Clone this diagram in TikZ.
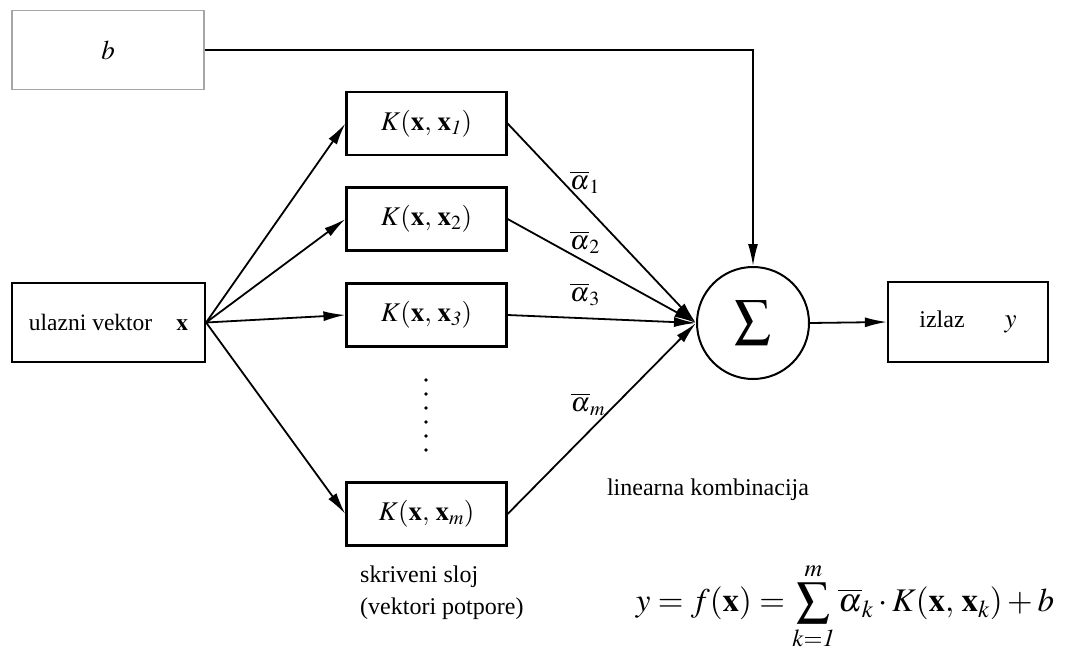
\documentclass[tikz,border=0pt]{standalone}
\usepackage{mathptmx}
\usepackage[no-math]{fontspec}
\setmainfont{Liberation Serif}
\usetikzlibrary{arrows.meta}
\tikzset{
  box/.style={draw, line width=2.2pt, minimum width=160pt, minimum height=63pt, inner sep=0pt, font=\fontsize{27}{30}\selectfont},
  arr/.style={line width=1.8pt, -{Latex[length=22pt,width=10pt]}},
  lbl/.style={inner sep=0pt, font=\fontsize{27}{30}\selectfont},
  txt/.style={inner sep=0pt, font=\fontsize{24}{28}\selectfont},
}
\begin{document}
\begin{tikzpicture}[x=1pt,y=-1pt]
\useasboundingbox (0,0) rectangle (1068,650);
\node[box, draw=gray!70, line width=1.5pt, minimum width=192pt, minimum height=79pt] (b) at (108,50) {$b$};
\node[box, minimum width=193pt, minimum height=79pt, font=\fontsize{23.5}{27}\selectfont] (in) at (108.5,322.5) {ulazni vektor\hspace{24pt}$\mathbf{x}$};
\node[box] (K1) at (426.5,123.5) {$K(\mathbf{x},\,\mathbf{x}_{\mathit{1}})$};
\node[box] (K2) at (426.5,219) {$K(\mathbf{x},\,\mathbf{x}_{2})$};
\node[box] (K3) at (426.5,315) {$K(\mathbf{x},\,\mathbf{x}_{\mathit{3}})$};
\node[box] (Km) at (426.5,514) {$K(\mathbf{x},\,\mathbf{x}_{m})$};
\node[draw, circle, line width=2pt, minimum size=112pt, inner sep=0pt, font=\fontsize{36}{40}\selectfont] (sum) at (753,323) {$\displaystyle\sum$};
\node[box, minimum width=160pt, minimum height=80pt, font=\fontsize{24}{28}\selectfont] (out) at (968,322) {izlaz\hspace{40pt}{\fontsize{27}{30}\selectfont$y$}};
\foreach \yy in {380,394,408,422,436,450} \fill (426,\yy) circle (1.9pt);
\draw[arr] (b.east) -| (sum.north);
\foreach \k in {K1,K2,K3,Km} {
  \draw[arr] (in.east) -- (\k.west);
  \draw[arr] (\k.east) -- (sum.west);
}
\draw[arr] (sum.east) -- (out.west);
\node[lbl] (a1) at (585,182) {$\overline{\alpha}_1$};
\node[lbl] (a2) at (585,242) {$\overline{\alpha}_2$};
\node[lbl] (a3) at (585,294) {$\overline{\alpha}_3$};
\node[lbl] (am) at (588,404) {$\overline{\alpha}_m$};
\node[txt] (lk) at (708,490) {linearna kombinacija};
\node[txt, anchor=north west, align=left, font=\fontsize{24}{32}\selectfont] (ss) at (360,566) {skriveni sloj\\(vektori potpore)};
\node[inner sep=0pt, font=\fontsize{33}{36}\selectfont] (f) at (845,606) {$\displaystyle y=f(\mathbf{x})=\sum_{k=\mathit{1}}^{m}\overline{\alpha}_k\cdot K(\mathbf{x},\,\mathbf{x}_k)+b$};
\end{tikzpicture}
\end{document}
